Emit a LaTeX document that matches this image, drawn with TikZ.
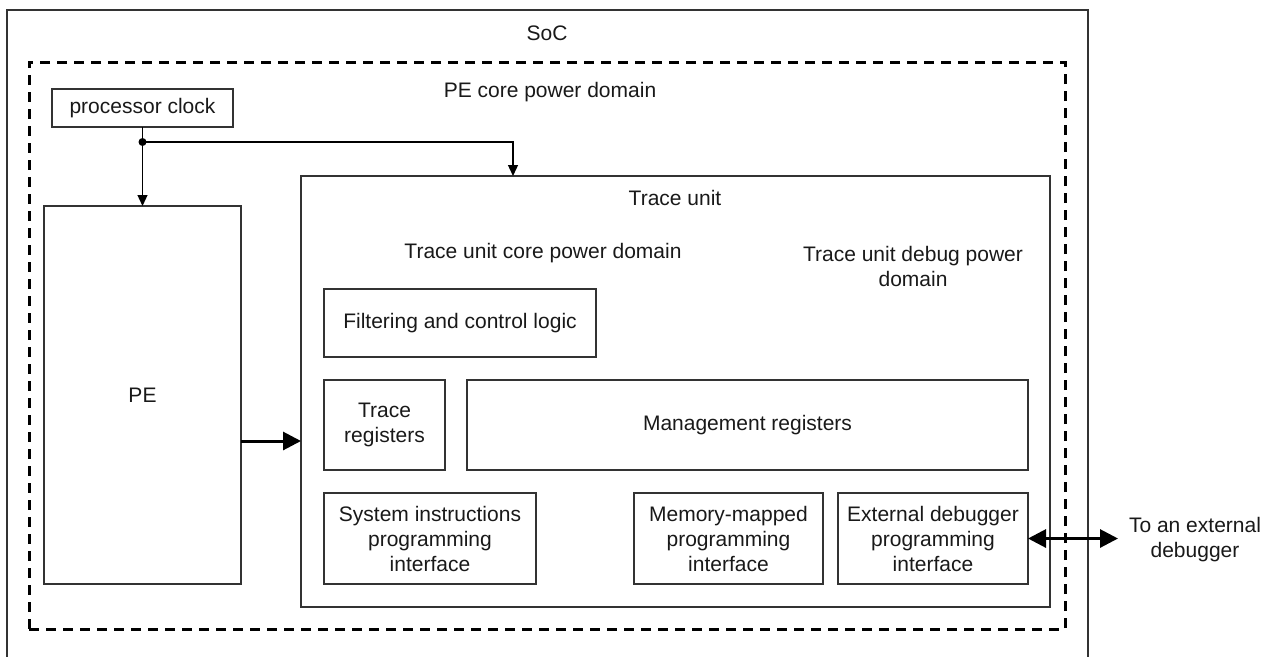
\documentclass[tikz,border=0pt]{standalone}
\usepackage{fontspec}
\setmainfont{Liberation Sans}
\usetikzlibrary{arrows.meta}
\tikzset{
        blk/.style={draw=black!80, line width=1.3pt, outer sep=0pt, inner sep=2pt,
          align=center, text=black!90}, % plain box, size given per node
        domain line/.style={draw=black, line width=3pt, dash pattern=on 10pt off 7pt},
        clk line/.style={draw=black, line width=1.3pt,
          -{Triangle[width=10pt,length=11pt]}},
        big arrow/.style={draw=black, line width=3pt,
          -{Triangle[width=18pt,length=18pt]}}
    }

\begin{document}
\begin{tikzpicture}[
  x=1pt, y=-1pt,
  every node/.style={font=\fontsize{21}{25}\selectfont},
  lbl/.style={align=center, text=black!90, inner sep=0pt},
]
\useasboundingbox (0,0) rectangle (1273,656);
\clip (0,0) rectangle (1273,656);
% outer frame runs off the bottom edge
\node[blk, anchor=north west, minimum width=1081pt, minimum height=700pt] (soc) at (7,10) {};
\node[lbl] (soctxt) at (547,33) {SoC};
\node[blk, domain line, minimum width=1036pt, minimum height=567pt] (pedom) at (547,345.5) {};
\node[lbl] (pedomtxt) at (550,92) {PE core power domain};

\node[blk, minimum width=181pt, minimum height=38pt] (clk) at (142.5,108) {processor clock};
\node[blk, minimum width=197pt, minimum height=378pt] (pe) at (142.5,395) {PE};

% trace unit and its blocks
\node[blk, minimum width=749pt, minimum height=431pt] (trace) at (675.5,391.5) {};
\node[lbl] (tracetxt) at (675,198) {Trace unit};
\node[lbl] (coretxt) at (543,253) {Trace unit core power domain};
\node[lbl] (dbgdomtxt) at (913,266) {Trace unit debug power\\domain};
\node[blk, minimum width=272pt, minimum height=68pt] (filter) at (460,323) {Filtering and control logic};
\node[blk, minimum width=121pt, minimum height=90pt] (treg) at (384.5,425) {Trace\\registers};
\node[blk, minimum width=561pt, minimum height=90pt] (mreg) at (747.5,425) {Management registers};
\node[blk, minimum width=212pt, minimum height=91pt] (sysif) at (430,538.5) {System instructions\\programming\\interface};
\node[blk, minimum width=189pt, minimum height=91pt] (mmif) at (728.5,538.5) {Memory-mapped\\programming\\interface};
\node[blk, minimum width=190pt, minimum height=91pt] (extif) at (933,538.5) {External debugger\\programming\\interface};

\node[lbl] (dbgtxt) at (1195,540) {To an external\\debugger};

% clock fan-out
\coordinate (jn) at (142.5,142);
\fill (jn) circle (4pt);
\draw[clk line] (clk.south) -- (pe.north);
\draw[clk line] (jn) -| ([xshift=212pt]trace.north west);

% data and debugger links
\coordinate (peout) at (241,441);
\coordinate (dbg) at (1118,538.5);
\draw[big arrow] (peout) -- (peout -| trace.west);
\draw[big arrow, {Triangle[width=18pt,length=18pt]}-{Triangle[width=18pt,length=18pt]}] (extif.east) -- (dbg);
\end{tikzpicture}
\end{document}
